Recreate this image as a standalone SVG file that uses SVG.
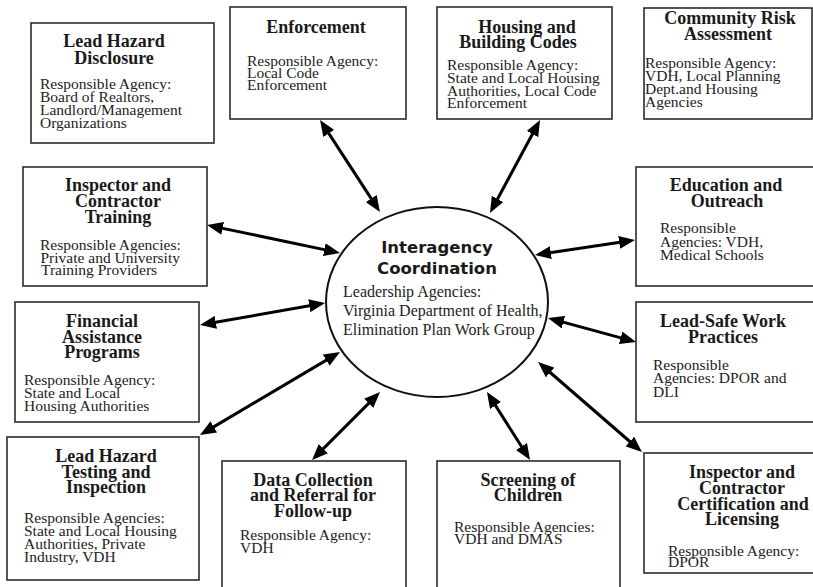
<svg xmlns="http://www.w3.org/2000/svg" width="813" height="587" viewBox="0 0 813 587">
  <style>
    .box { fill: #ffffff; stroke: #2b2b2b; stroke-width: 1.6; }
    .hub { fill: #ffffff; stroke: #111111; stroke-width: 2; }
    .title { font-family: "Liberation Serif", "Times New Roman", serif; font-weight: bold; font-size: 18px; fill: #1a1a1a; text-anchor: middle; }
    .body { font-family: "Liberation Serif", "Times New Roman", serif; font-size: 15.5px; fill: #222222; }
    .hubtitle { font-family: "DejaVu Sans", Verdana, sans-serif; font-weight: bold; font-size: 16.5px; fill: #1a1a1a; text-anchor: middle; }
    .hubbody { font-family: "Liberation Serif", "Times New Roman", serif; font-size: 16px; fill: #222222; }
    .link { stroke: #000000; stroke-width: 3; fill: none; marker-start: url(#head); marker-end: url(#head); }
  </style>
  <defs>
    <marker id="head" markerUnits="userSpaceOnUse" viewBox="0 0 16 13" markerWidth="16" markerHeight="13" refX="6" refY="6.5" orient="auto-start-reverse">
      <path d="M0,0 L16,6.5 L0,13 z" fill="#000000"/>
    </marker>
  </defs>
  <rect width="813" height="587" fill="#ffffff"/>

  <!-- connectors: every link is two-way -->
  <g id="connectors">
    <line class="link" x1="325.5" y1="128.4" x2="374.5" y2="203.6"/>
    <line class="link" x1="535.3" y1="128.8" x2="494.7" y2="204.2"/>
    <line class="link" x1="216.8" y1="227.1" x2="330.2" y2="250.9"/>
    <line class="link" x1="209.9" y1="323.3" x2="315.2" y2="304.7"/>
    <line class="link" x1="208.6" y1="429.9" x2="331.4" y2="357.1"/>
    <line class="link" x1="319.1" y1="452.9" x2="372.9" y2="399.1"/>
    <line class="link" x1="524.7" y1="451.5" x2="492.3" y2="400.5"/>
    <line class="link" x1="634.4" y1="445.5" x2="545.6" y2="368.5"/>
    <line class="link" x1="626.4" y1="339.4" x2="557.6" y2="320.6"/>
    <line class="link" x1="625.1" y1="241.5" x2="544.9" y2="253.5"/>
  </g>

  <g id="hub">
    <ellipse class="hub" cx="437" cy="302" rx="111" ry="95"/>
    <text class="hubtitle" x="437" y="253">Interagency</text>
    <text class="hubtitle" x="437" y="274">Coordination</text>
    <text class="hubbody" x="343" y="297">Leadership Agencies:</text>
    <text class="hubbody" x="343" y="316">Virginia Department of Health,</text>
    <text class="hubbody" x="343" y="335">Elimination Plan Work Group</text>
  </g>

  <g id="lead-hazard-disclosure">
    <rect class="box" x="31" y="23" width="183" height="120"/>
    <text class="title" x="114" y="47">Lead Hazard</text>
    <text class="title" x="114" y="64">Disclosure</text>
    <text class="body" x="40" y="89">Responsible Agency:</text>
    <text class="body" x="40" y="102">Board of Realtors,</text>
    <text class="body" x="40" y="114.5">Landlord/Management</text>
    <text class="body" x="40" y="127.5">Organizations</text>
  </g>

  <g id="enforcement">
    <rect class="box" x="230" y="7" width="176" height="112"/>
    <text class="title" x="316" y="33">Enforcement</text>
    <text class="body" x="247" y="66">Responsible Agency:</text>
    <text class="body" x="247" y="78">Local Code</text>
    <text class="body" x="247" y="89.5">Enforcement</text>
  </g>

  <g id="housing-building-codes">
    <rect class="box" x="437" y="7" width="175" height="112"/>
    <text class="title" x="527" y="33">Housing and</text>
    <text class="title" x="518" y="48">Building Codes</text>
    <text class="body" x="447" y="70">Responsible Agency:</text>
    <text class="body" x="447" y="83">State and Local Housing</text>
    <text class="body" x="447" y="95.5">Authorities, Local Code</text>
    <text class="body" x="447" y="108">Enforcement</text>
  </g>

  <g id="community-risk-assessment">
    <rect class="box" x="644" y="8" width="168" height="111"/>
    <text class="title" x="730" y="24">Community Risk</text>
    <text class="title" x="728" y="40">Assessment</text>
    <text class="body" x="645" y="67.5">Responsible Agency:</text>
    <text class="body" x="645" y="81">VDH, Local Planning</text>
    <text class="body" x="645" y="94">Dept.and Housing</text>
    <text class="body" x="645" y="107">Agencies</text>
  </g>

  <g id="inspector-contractor-training">
    <rect class="box" x="23" y="167" width="184" height="119"/>
    <text class="title" x="118" y="190.5">Inspector and</text>
    <text class="title" x="118" y="206.5">Contractor</text>
    <text class="title" x="118" y="222.5">Training</text>
    <text class="body" x="40" y="250">Responsible Agencies:</text>
    <text class="body" x="40.5" y="262.5">Private and University</text>
    <text class="body" x="41" y="275">Training Providers</text>
  </g>

  <g id="financial-assistance">
    <rect class="box" x="15" y="302" width="184" height="120"/>
    <text class="title" x="102" y="326.5">Financial</text>
    <text class="title" x="102" y="342.5">Assistance</text>
    <text class="title" x="102" y="358">Programs</text>
    <text class="body" x="24" y="385">Responsible Agency:</text>
    <text class="body" x="24" y="397.5">State and Local</text>
    <text class="body" x="24" y="411">Housing Authorities</text>
  </g>

  <g id="education-outreach">
    <rect class="box" x="636" y="167" width="180" height="119"/>
    <text class="title" x="726" y="190.5">Education and</text>
    <text class="title" x="727" y="206.5">Outreach</text>
    <text class="body" x="660" y="233">Responsible</text>
    <text class="body" x="660" y="246.5">Agencies: VDH,</text>
    <text class="body" x="660" y="260">Medical Schools</text>
  </g>

  <g id="lead-safe-work-practices">
    <rect class="box" x="636" y="302" width="180" height="120"/>
    <text class="title" x="723" y="326.5">Lead-Safe Work</text>
    <text class="title" x="723" y="342.5">Practices</text>
    <text class="body" x="653" y="370">Responsible</text>
    <text class="body" x="653" y="383">Agencies: DPOR and</text>
    <text class="body" x="653" y="396.5">DLI</text>
  </g>

  <g id="lead-hazard-testing">
    <rect class="box" x="7" y="437" width="192" height="143"/>
    <text class="title" x="106" y="462">Lead Hazard</text>
    <text class="title" x="106" y="478">Testing and</text>
    <text class="title" x="106" y="493">Inspection</text>
    <text class="body" x="24" y="522.5">Responsible Agencies:</text>
    <text class="body" x="24" y="536">State and Local Housing</text>
    <text class="body" x="24" y="549">Authorities, Private</text>
    <text class="body" x="24" y="562">Industry, VDH</text>
  </g>

  <g id="data-collection-referral">
    <rect class="box" x="222" y="461" width="184" height="140"/>
    <text class="title" x="313" y="485.5">Data Collection</text>
    <text class="title" x="313" y="501">and Referral for</text>
    <text class="title" x="313" y="517">Follow-up</text>
    <text class="body" x="240" y="540">Responsible Agency:</text>
    <text class="body" x="240" y="552.5">VDH</text>
  </g>

  <g id="screening-of-children">
    <rect class="box" x="437" y="461" width="183" height="140"/>
    <text class="title" x="528" y="486">Screening of</text>
    <text class="title" x="528" y="501">Children</text>
    <text class="body" x="454" y="531.5">Responsible Agencies:</text>
    <text class="body" x="454" y="543.5">VDH and DMAS</text>
  </g>

  <g id="inspector-contractor-certification">
    <rect class="box" x="644" y="453" width="175" height="120"/>
    <text class="title" x="742" y="477.5">Inspector and</text>
    <text class="title" x="742" y="494">Contractor</text>
    <text class="title" x="743" y="510">Certification and</text>
    <text class="title" x="742" y="525">Licensing</text>
    <text class="body" x="668" y="556">Responsible Agency:</text>
    <text class="body" x="668" y="566.5">DPOR</text>
  </g>
</svg>
